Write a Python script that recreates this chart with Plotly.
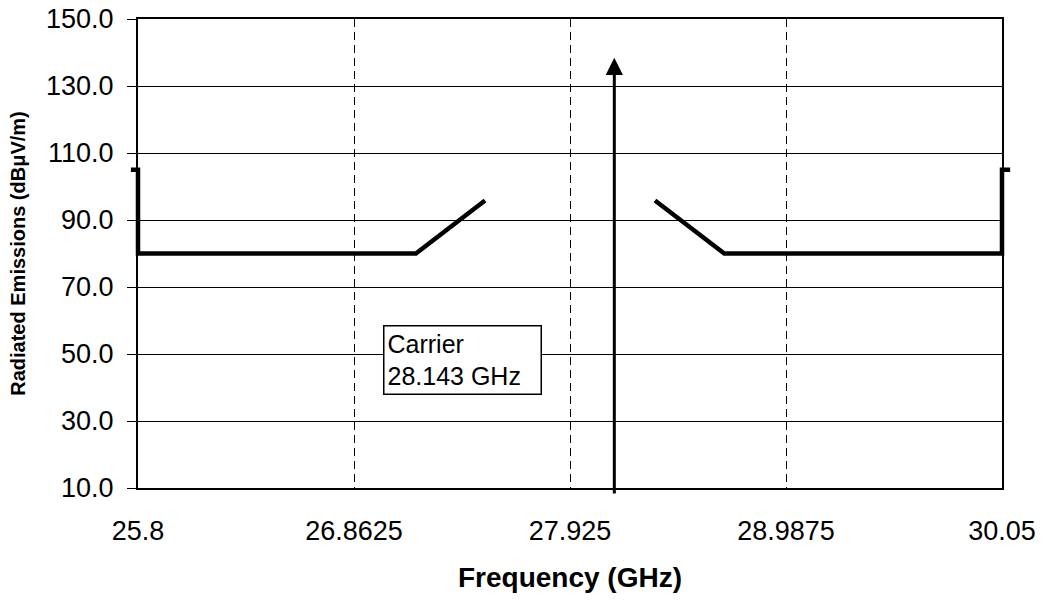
import plotly.graph_objects as go

# ---- data ----
x_tick_vals = [25.8, 26.8625, 27.925, 28.9875, 30.05]
x_tick_text = ["25.8", "26.8625", "27.925", "28.9875", "30.05"]
y_tick_vals = [10, 30, 50, 70, 90, 110, 130, 150]
x_range = [25.8, 30.05]
y_range = [10, 150]

mask_left_x = [25.765, 25.8, 25.8, 27.167, 27.507]
mask_left_y = [105, 105, 80, 80, 95.8]
mask_right_x = [28.343, 28.684, 30.05, 30.05, 30.09]
mask_right_y = [95.8, 80, 80, 105, 105]

carrier_freq = 28.143
carrier_bottom = 7.9
carrier_top = 138.4
carrier_label = "Carrier<br>28.143 GHz"

FONT = "Liberation Sans, Arial, sans-serif"

# ---- layout geometry (pixels) ----
W, H = 1045, 600
ML, MR, MT, MB = 100, 20, 19, 112
plot_left, plot_right = 138, 1002
area_w = W - ML - MR
d0 = (plot_left - ML) / area_w
d1 = (plot_right - ML) / area_w
ppu = (plot_right - plot_left) / (x_range[1] - x_range[0])
x2_range = [x_range[0] - (plot_left - ML) / ppu, x_range[1] + (W - MR - plot_right) / ppu]

fig = go.Figure()
for xs, ys in [(mask_left_x, mask_left_y), (mask_right_x, mask_right_y)]:
    fig.add_trace(go.Scatter(
        x=xs, y=ys, mode="lines", xaxis="x2", yaxis="y2",
        line=dict(color="black", width=4.5),
        showlegend=False, hoverinfo="skip",
    ))

# carrier arrow
fig.add_annotation(
    x=carrier_freq, y=carrier_top, xref="x", yref="y",
    ax=carrier_freq, ay=carrier_bottom, axref="x", ayref="y",
    text="", showarrow=True, arrowhead=2, arrowwidth=3, arrowsize=1.15,
    arrowcolor="black", standoff=0, startstandoff=0,
)
# carrier label
fig.add_annotation(
    x=27.005, y=58.7, xref="x", yref="y", xanchor="left", yanchor="top",
    text=carrier_label, showarrow=False, align="left", width=150,
    font=dict(family=FONT, size=25, color="black"),
    bgcolor="white", bordercolor="black", borderwidth=1.5, borderpad=3,
)

fig.update_layout(
    width=W, height=H,
    margin=dict(l=ML, r=MR, t=MT, b=MB),
    paper_bgcolor="white", plot_bgcolor="rgba(0,0,0,0)",
    font=dict(family=FONT, color="black"),
    showlegend=False,
    xaxis=dict(
        domain=[d0, d1],
        range=x_range, tickmode="array", tickvals=x_tick_vals, ticktext=x_tick_text,
        showgrid=True, gridcolor="black", gridwidth=1, griddash="8px,5px",
        showline=True, linecolor="black", linewidth=2, mirror=True,
        ticks="", ticklabelstandoff=18, automargin=False,
        tickfont=dict(family=FONT, size=27, color="black"),
        zeroline=False,
        title=dict(text="<b>Frequency (GHz)</b>", font=dict(family=FONT, size=28, color="black"), standoff=22),
    ),
    yaxis=dict(
        range=y_range, tickmode="array", tickvals=y_tick_vals, tickformat=".1f",
        showgrid=True, gridcolor="black", gridwidth=1,
        showline=True, linecolor="black", linewidth=2, mirror=True,
        ticks="outside", ticklen=9, tickcolor="black", tickwidth=1, ticklabelstandoff=8,
        tickfont=dict(family=FONT, size=27, color="black"), automargin=False,
        zeroline=False,
        title=dict(text="<b>Radiated Emissions (dBμV/m)</b>", font=dict(family=FONT, size=20, color="black"), standoff=15),
    ),
    xaxis2=dict(domain=[0, 1], range=x2_range, visible=False, anchor="y2", showgrid=False, zeroline=False),
    yaxis2=dict(domain=[0, 1], range=y_range, visible=False, anchor="x2", showgrid=False, zeroline=False),
)

fig.write_html("out.html")
